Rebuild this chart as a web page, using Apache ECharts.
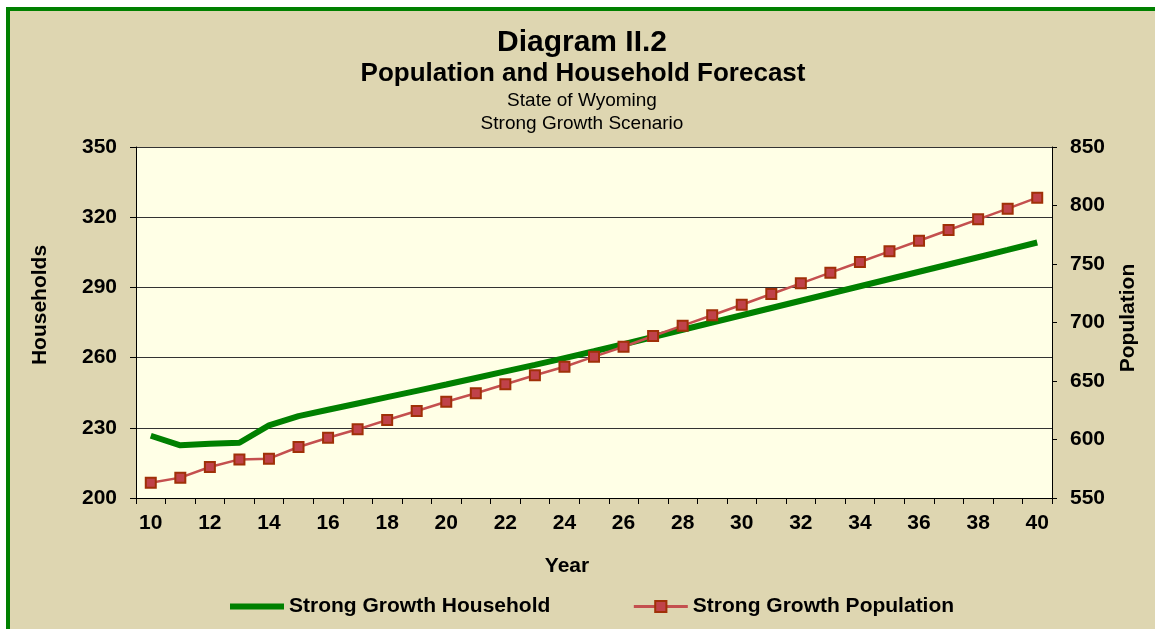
<!DOCTYPE html>
<html>
<head>
<meta charset="utf-8">
<title>Diagram II.2</title>
<script src="https://cdn.jsdelivr.net/npm/echarts@6/dist/echarts.min.js"></script>
<style>
  html, body { margin: 0; padding: 0; background: #fff; }
  #chart { width: 1155px; height: 629px; }
</style>
</head>
<body>
<div id="chart"></div>
<script>
// data
const years = ['10', '11', '12', '13', '14', '15', '16', '17', '18', '19', '20',
  '21', '22', '23', '24', '25', '26', '27', '28', '29', '30',
  '31', '32', '33', '34', '35', '36', '37', '38', '39', '40']
const households = [226.6, 222.5, 223.2, 223.6, 231.0, 235.0, 237.7, 240.4, 243.1, 245.8, 248.5,
  251.3, 254.1, 256.9, 259.8, 262.7, 265.7, 268.8, 271.9, 275.0, 278.1,
  281.2, 284.3, 287.4, 290.5, 293.6, 296.7, 299.8, 302.9, 306.0, 309.2]
const population = [563.0, 567.4, 576.5, 583.0, 583.6, 593.6, 601.5, 608.7, 616.7, 624.4, 632.3,
  639.5, 647.2, 654.9, 662.2, 670.8, 679.3, 688.5, 697.3, 706.2, 715.2,
  724.4, 733.5, 742.6, 751.7, 760.8, 769.9, 779.1, 788.2, 797.3, 806.7]
const titleLines = ['Diagram II.2', 'Population and Household Forecast', 'State of Wyoming', 'Strong Growth Scenario']

const FONT = '"Liberation Sans", Arial, sans-serif'
const chart = echarts.init(document.getElementById('chart'))

const axisText = { color: '#000', fontSize: 21, fontWeight: 'bold', fontFamily: FONT }

const option = {
  backgroundColor: '#DED6B1',
  animation: false,
  graphic: [
    // white margin + green frame (only top and left edges are visible)
    { type: 'rect', shape: { x: 0, y: 0, width: 1155, height: 7 }, style: { fill: '#fff' } },
    { type: 'rect', shape: { x: 0, y: 0, width: 6, height: 629 }, style: { fill: '#fff' } },
    { type: 'rect', shape: { x: 6, y: 7, width: 1149, height: 4 }, style: { fill: '#008000' } },
    { type: 'rect', shape: { x: 6, y: 7, width: 4, height: 622 }, style: { fill: '#008000' } },
    // titles
    { type: 'text', x: 582, y: 43, style: { text: titleLines[0], font: 'bold 30px ' + FONT, fill: '#000', align: 'center', verticalAlign: 'middle' } },
    { type: 'text', x: 583, y: 74, style: { text: titleLines[1], font: 'bold 26px ' + FONT, fill: '#000', align: 'center', verticalAlign: 'middle' } },
    { type: 'text', x: 582, y: 101, style: { text: titleLines[2], font: '19px ' + FONT, fill: '#000', align: 'center', verticalAlign: 'middle' } },
    { type: 'text', x: 582, y: 124, style: { text: titleLines[3], font: '19px ' + FONT, fill: '#000', align: 'center', verticalAlign: 'middle' } },
    // axis names
    { type: 'text', x: 40, y: 305, rotation: Math.PI / 2, style: { text: 'Households', font: 'bold 21px ' + FONT, fill: '#000', align: 'center', verticalAlign: 'middle' } },
    { type: 'text', x: 1128, y: 318, rotation: Math.PI / 2, style: { text: 'Population', font: 'bold 21px ' + FONT, fill: '#000', align: 'center', verticalAlign: 'middle' } },
    { type: 'text', x: 567, y: 566, style: { text: 'Year', font: 'bold 21px ' + FONT, fill: '#000', align: 'center', verticalAlign: 'middle' } }
  ],
  grid: {
    left: 136, top: 147, right: 103, bottom: 131,
    show: true, backgroundColor: '#FFFFE6', borderWidth: 0
  },
  legend: {
    left: 222, top: 591,
    itemWidth: 54, itemHeight: 14, itemGap: 82,
    textStyle: { color: '#000', fontSize: 21, fontWeight: 'bold', fontFamily: FONT },
    data: [
      { name: 'Strong Growth Household', itemStyle: { opacity: 0 }, lineStyle: { width: 6, color: '#008000' } },
      { name: 'Strong Growth Population', lineStyle: { width: 3, color: '#C4504F' } }
    ]
  },
  xAxis: {
    type: 'category',
    data: years,
    boundaryGap: true,
    axisLine: { lineStyle: { color: '#000', width: 1 } },
    axisTick: { show: true, interval: 0, length: 6, lineStyle: { color: '#000' } },
    axisLabel: Object.assign({ interval: 1, margin: 15 }, axisText),
    splitLine: { show: false }
  },
  yAxis: [
    {
      type: 'value', min: 200, max: 350, interval: 30,
      axisLine: { show: true, lineStyle: { color: '#000', width: 1 } },
      axisTick: { show: true, length: 6, lineStyle: { color: '#000' } },
      axisLabel: Object.assign({ margin: 19 }, axisText),
      splitLine: { show: true, lineStyle: { color: '#333', width: 1 } }
    },
    {
      type: 'value', min: 550, max: 850, interval: 50,
      axisLine: { show: true, lineStyle: { color: '#000', width: 1 } },
      axisTick: { show: true, length: 5, lineStyle: { color: '#000' } },
      axisLabel: Object.assign({ margin: 18 }, axisText),
      splitLine: { show: false }
    }
  ],
  series: [
    {
      name: 'Strong Growth Household',
      type: 'line',
      yAxisIndex: 0,
      data: households,
      symbol: 'none',
      lineStyle: { color: '#008000', width: 6 },
      itemStyle: { color: '#008000' },
      z: 3
    },
    {
      name: 'Strong Growth Population',
      type: 'line',
      yAxisIndex: 1,
      data: population,
      symbol: 'rect',
      symbolSize: 10,
      lineStyle: { color: '#C4504F', width: 2.5 },
      itemStyle: { color: '#C0424A', borderColor: '#A03008', borderWidth: 2 },
      z: 4
    }
  ]
}

chart.setOption(option)
</script>
</body>
</html>
